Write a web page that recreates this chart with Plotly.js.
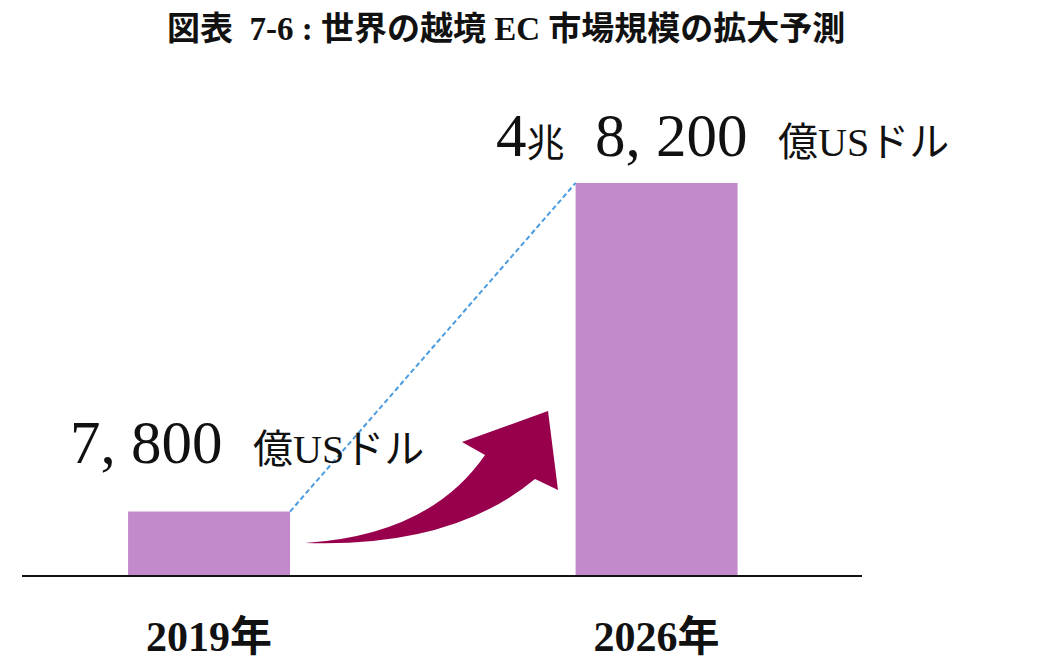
<!DOCTYPE html>
<html>
<head>
<meta charset="utf-8">
<script src="https://cdn.plot.ly/plotly-3.0.1.min.js"></script>
<style>
  html, body { margin: 0; padding: 0; background: #fff; }
  #chart { width: 1050px; height: 666px; }
</style>
</head>
<body>
<div id="chart"></div>
<script>
// ---- data ----
const categories = ['2019年', '2026年'];
const values = [7800, 48200];            // 億USドル
const unitLabel = '億USドル';
const chartTitle = '図表  7-6 : 世界の越境 EC 市場規模の拡大予測';

// ---- styling ----
const W = 1050, H = 666;
const M = {l: 22, r: 188, t: 100, b: 91};
const barWidth = 0.362;
const barColor = '#C38ACB';
const serif = '"Liberation Serif", "DejaVu Serif", "Noto Sans CJK JP", serif';

function fmt(v) {
  const cho = Math.floor(v / 10000);
  const rest = v % 10000;
  const restStr = Math.floor(rest / 1000) + ', ' + String(rest % 1000).padStart(3, '0');
  if (cho > 0) {
    return cho + '<span style="font-size:38px">兆</span>  ' + restStr;
  }
  return restStr;
}

const xs = categories.map((c, i) => i);

const barTrace = {
  type: 'bar',
  x: xs,
  y: values,
  width: barWidth,
  marker: {color: barColor, line: {width: 0}},
  hoverinfo: 'skip'
};

// dashed connector from top-right of first bar to top-left of second bar
const connector = {
  type: 'scatter',
  mode: 'lines',
  x: [xs[0] + barWidth / 2, xs[1] - barWidth / 2],
  y: [values[0], values[1]],
  line: {color: '#4A9BE0', width: 2, dash: '5px,3px'},
  hoverinfo: 'skip'
};

// convert design pixel coords to paper coords for the decorative arrow
const pw = W - M.l - M.r, ph = H - M.t - M.b;
function P(px, py) {
  return ((px - M.l) / pw).toFixed(4) + ',' + ((H - M.b - py) / ph).toFixed(4);
}
const arrowPath =
  'M ' + P(305, 543) +
  ' Q ' + P(430, 535) + ' ' + P(485, 455) +
  ' L ' + P(462, 442) +
  ' L ' + P(548, 411) +
  ' L ' + P(558, 490) +
  ' L ' + P(535, 479) +
  ' Q ' + P(452, 548) + ' ' + P(305, 543) + ' Z';

const yMax = 58400;

function labelText(v) {
  return '<span style="font-size:61px">' + fmt(v) + '</span>  <span style="font-size:40px">' + unitLabel + '</span>';
}

const annotations = [
  {
    x: xs[0], y: values[0], xref: 'x', yref: 'y',
    xanchor: 'center', yanchor: 'bottom',
    xshift: 38, yshift: 34,
    showarrow: false,
    text: labelText(values[0]),
    font: {family: serif, size: 61, color: '#111'}
  },
  {
    x: xs[1], y: values[1], xref: 'x', yref: 'y',
    xanchor: 'center', yanchor: 'bottom',
    xshift: 66, yshift: 12,
    showarrow: false,
    text: labelText(values[1]),
    font: {family: serif, size: 61, color: '#111'}
  }
];

const layout = {
  width: W, height: H,
  margin: M,
  paper_bgcolor: '#fff',
  plot_bgcolor: '#fff',
  showlegend: false,
  title: {
    text: '<b>' + chartTitle + '</b>',
    x: 0.482, xanchor: 'center',
    y: 1 - 28 / H, yanchor: 'middle',
    font: {family: serif, size: 33, color: '#111'}
  },
  xaxis: {
    range: [-0.418, 1.459],
    tickvals: xs,
    ticktext: categories.map(c => '<b>' + c + '</b>'),
    ticks: '',
    showgrid: false,
    zeroline: false,
    showline: true,
    linecolor: '#111',
    linewidth: 2,
    ticklabelstandoff: 24,
    tickfont: {family: serif, size: 42, color: '#111'},
    fixedrange: true
  },
  yaxis: {
    range: [0, yMax],
    visible: false,
    showgrid: false,
    zeroline: false,
    fixedrange: true
  },
  shapes: [
    {
      type: 'path', xref: 'paper', yref: 'paper',
      path: arrowPath,
      fillcolor: '#98004E',
      line: {width: 0},
      layer: 'above'
    }
  ],
  annotations: annotations
};

Plotly.newPlot('chart', [barTrace, connector], layout, {displayModeBar: false, staticPlot: true});
</script>
</body>
</html>
